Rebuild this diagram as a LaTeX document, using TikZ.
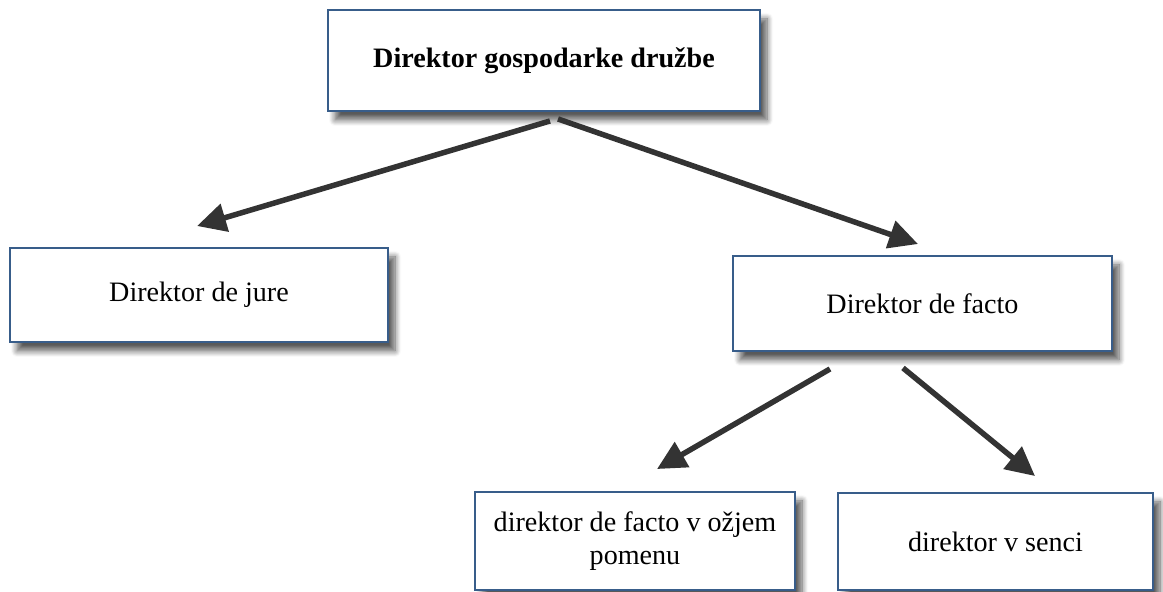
\documentclass[tikz,border=0pt]{standalone}
\usepackage{fontspec}
\setmainfont{Liberation Serif}
\usetikzlibrary{arrows.meta,shadows.blur}
\definecolor{boxblue}{RGB}{56,93,138}
\definecolor{arrowgray}{RGB}{51,51,51}

\begin{document}
\begin{tikzpicture}[
  box/.style={draw=boxblue, line width=1.1pt, fill=white, align=center,
    inner sep=0pt, font=\fontsize{16}{18.5}\selectfont,
    blur shadow={shadow xshift=0.14cm, shadow yshift=-0.18cm, shadow opacity=65, shadow blur steps=8, shadow blur radius=0.12cm}},
  conn/.style={arrowgray, line width=0.11cm, -{Triangle[length=0.58cm,width=0.56cm]}}]
\useasboundingbox (0,0) rectangle (23.26,11.84);
\node[box, minimum width=8.64cm, minimum height=2.02cm, font=\fontsize{16}{18.5}\selectfont\bfseries] (top) at (10.88,10.63) {Direktor gospodarke družbe};
\node[box, minimum width=7.56cm, minimum height=1.88cm] (jure) at (3.98,5.94) {Direktor de jure};
\node[box, minimum width=7.58cm, minimum height=1.9cm] (facto) at (18.45,5.77) {Direktor de facto};
\node[box, minimum width=6.4cm, minimum height=1.96cm] (ozjem) at (12.7,1.02) {direktor de facto v ožjem\\pomenu};
\node[box, minimum width=6.3cm, minimum height=1.94cm] (senci) at (19.91,1.01) {direktor v senci};
\draw[conn] ([xshift=0.12cm,yshift=-0.18cm]top.south) -- ([xshift=-0.04cm,yshift=0.42cm]jure.north);
\draw[conn] ([xshift=0.28cm,yshift=-0.14cm]top.south) -- ([xshift=-0.09cm,yshift=0.22cm]facto.north);
\draw[conn] ([xshift=-1.85cm,yshift=-0.34cm]facto.south) -- ([xshift=0.44cm,yshift=0.44cm]ozjem.north);
\draw[conn] ([xshift=-0.39cm,yshift=-0.32cm]facto.south) -- ([xshift=0.79cm,yshift=0.32cm]senci.north);
\end{tikzpicture}
\end{document}
